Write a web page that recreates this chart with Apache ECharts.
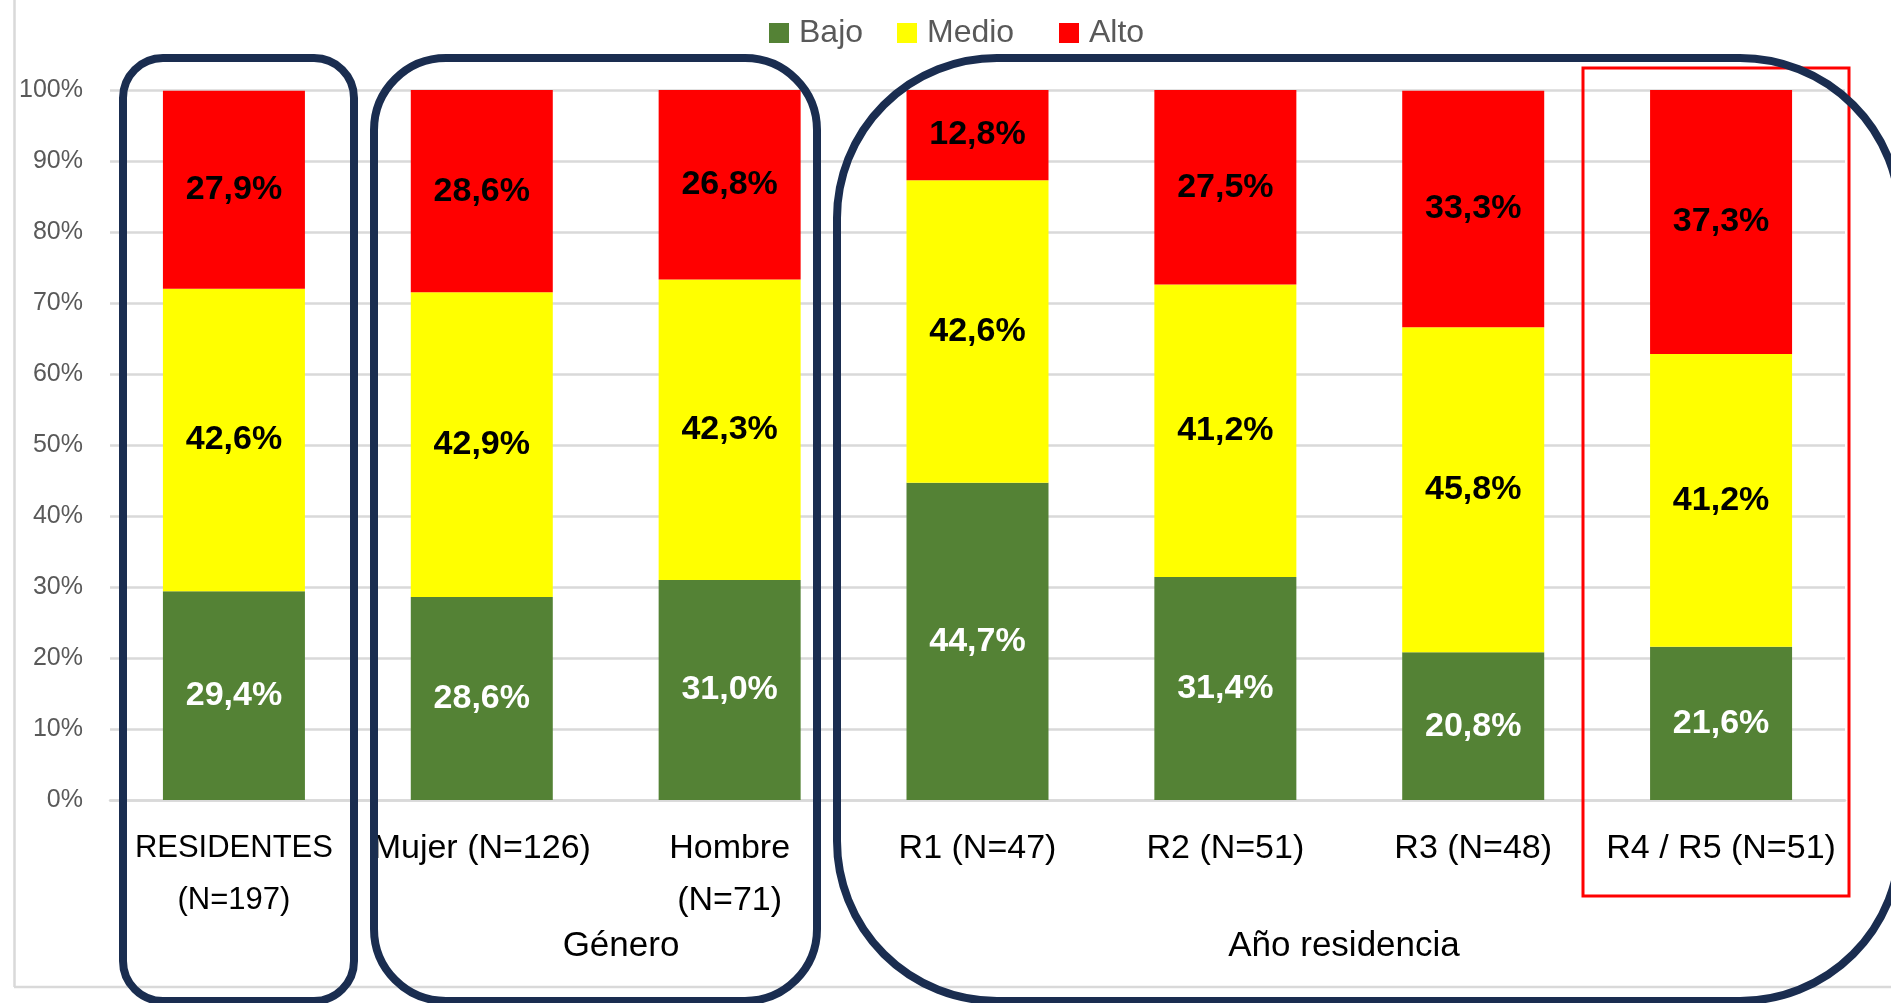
<!DOCTYPE html>
<html>
<head>
<meta charset="utf-8">
<script src="https://cdn.jsdelivr.net/npm/echarts@6/dist/echarts.min.js"></script>
<style>
html,body{margin:0;padding:0;background:#fff;}
#chart{width:1891px;height:1003px;}
</style>
</head>
<body>
<div id="chart"></div>
<script>
const categories = ['RESIDENTES\n(N=197)', 'Mujer (N=126)', 'Hombre\n(N=71)', 'R1 (N=47)', 'R2 (N=51)', 'R3 (N=48)', 'R4 / R5 (N=51)'];
const bajo  = [29.4, 28.6, 31.0, 44.7, 31.4, 20.8, 21.6];
const medio = [42.6, 42.9, 42.3, 42.6, 41.2, 45.8, 41.2];
const alto  = [27.9, 28.6, 26.8, 12.8, 27.5, 33.3, 37.3];
const seriesNames = ['Bajo', 'Medio', 'Alto'];
const groupTitles = ['Género', 'Año residencia'];

const FONT = '"Liberation Sans", Arial, sans-serif';
const fmt = p => p.value.toFixed(1).replace('.', ',') + '%';

const chart = echarts.init(document.getElementById('chart'), null, {renderer: 'canvas'});

function mkLegend(name, left) {
  return {
    data: [name], left: left, top: 17, padding: 0,
    itemWidth: 20, itemHeight: 20, icon: 'rect',
    textStyle: {fontFamily: FONT, fontSize: 32, color: '#595959', padding: [0, 0, 0, 5]}
  };
}

function mkSeries(name, data, color, labelColor) {
  return {
    name: name, type: 'bar', stack: 'total', data: data,
    barWidth: 142,
    itemStyle: {color: color},
    label: {show: true, position: 'inside', formatter: fmt,
      fontFamily: FONT, fontSize: 34, fontWeight: 'bold', color: labelColor},
    z: 2
  };
}

const catData = categories.map((c, i) => i === 0
  ? {value: c, textStyle: {fontSize: 31, lineHeight: 51.5}}
  : c);

const navy = '#1a2d50';
chart.setOption({
  animation: false,
  legend: [mkLegend(seriesNames[0], 769), mkLegend(seriesNames[1], 897), mkLegend(seriesNames[2], 1059)],
  grid: {left: 110, right: 46, top: 90, bottom: 203},
  xAxis: {
    type: 'category', data: catData,
    axisLine: {show: true, lineStyle: {color: '#d9d9d9', width: 2.5}},
    axisTick: {show: false},
    axisLabel: {interval: 0, fontFamily: FONT, fontSize: 34, lineHeight: 51.5, color: '#000', margin: 23}
  },
  yAxis: {
    type: 'value', min: 0, max: 100, interval: 10,
    axisLine: {show: false}, axisTick: {show: false},
    splitLine: {lineStyle: {color: '#d9d9d9', width: 2.5}},
    axisLabel: {formatter: '{value}%', fontFamily: FONT, fontSize: 25, color: '#595959', margin: 27}
  },
  series: [
    mkSeries(seriesNames[0], bajo, '#548235', '#ffffff'),
    mkSeries(seriesNames[1], medio, '#ffff00', '#000000'),
    mkSeries(seriesNames[2], alto, '#ff0000', '#000000')
  ],
  graphic: [
    {type: 'line', shape: {x1: 14.5, y1: 0, x2: 14.5, y2: 987}, style: {stroke: '#d9d9d9', lineWidth: 2.5}, z: 1},
    {type: 'line', shape: {x1: 14, y1: 987, x2: 1891, y2: 987}, style: {stroke: '#d9d9d9', lineWidth: 2.5}, z: 1},
    {type: 'rect', shape: {x: 123, y: 58, width: 231, height: 943, r: 40}, style: {fill: null, stroke: navy, lineWidth: 8}, z: 10},
    {type: 'rect', shape: {x: 374, y: 58, width: 443, height: 943, r: 72}, style: {fill: null, stroke: navy, lineWidth: 8}, z: 10},
    {type: 'rect', shape: {x: 837, y: 58, width: 1063, height: 943, r: 160}, style: {fill: null, stroke: navy, lineWidth: 8}, z: 10},
    {type: 'rect', shape: {x: 1583, y: 68, width: 266, height: 828}, style: {fill: null, stroke: '#ff0000', lineWidth: 3}, z: 9},
    {type: 'text', x: 621, y: 946, style: {text: groupTitles[0], fontFamily: FONT, fontSize: 35, fill: '#000', align: 'center', verticalAlign: 'middle'}, z: 10},
    {type: 'text', x: 1344, y: 946, style: {text: groupTitles[1], fontFamily: FONT, fontSize: 35, fill: '#000', align: 'center', verticalAlign: 'middle'}, z: 10}
  ]
});
</script>
</body>
</html>
